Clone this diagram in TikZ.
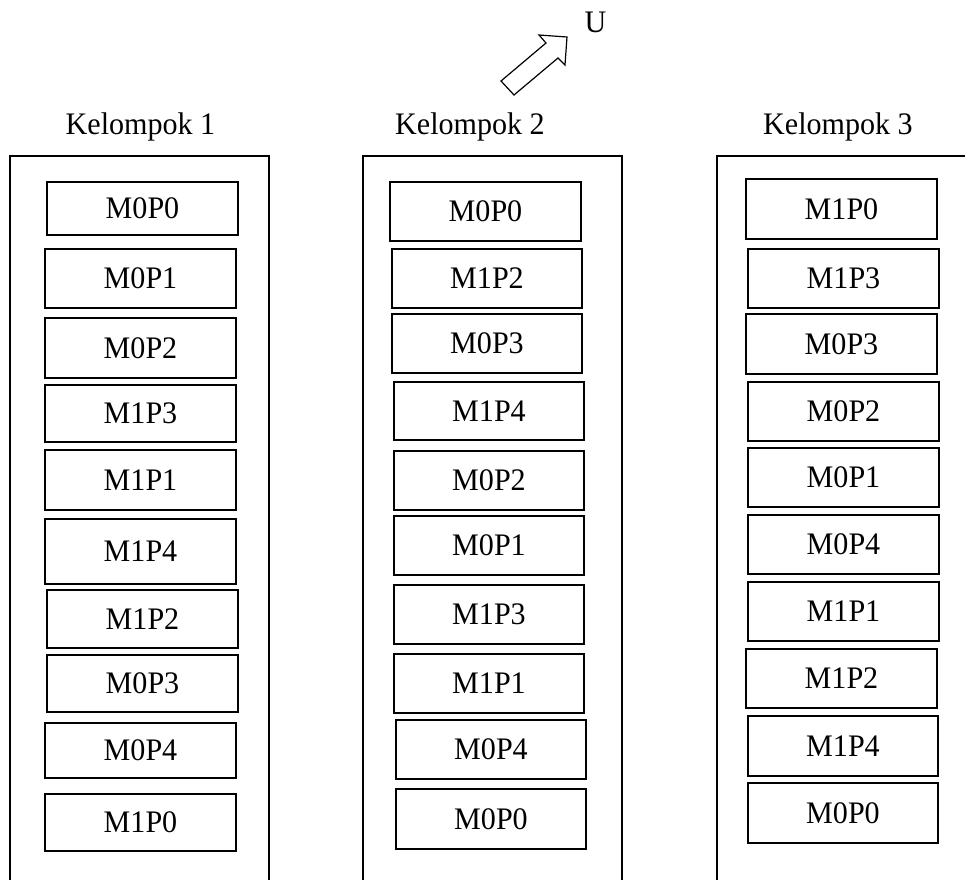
\documentclass[tikz,border=0pt]{standalone}
\usepackage{fontspec}
\setmainfont[FakeStretch=0.96]{Liberation Serif}
\begin{document}
\begin{tikzpicture}[x=0.75pt,y=-0.75pt,
  cell/.style={draw, line width=0.95pt, inner sep=0pt, outer sep=0pt, font=\fontsize{23.5}{28}\selectfont},
  frame/.style={draw, line width=0.8pt},
  title/.style={anchor=base, inner sep=0pt, font=\fontsize{23.5}{28}\selectfont},
  blockarrow/.style={draw, line width=0.9pt, line join=miter, fill=white}]
\useasboundingbox (0,0) rectangle (965,880);
\clip (0,0) rectangle (965,880);
\newcommand\cbx[6]{%
  \node[cell, minimum width={(#4-#2)*0.75pt}, minimum height={(#5-#3)*0.75pt}] (#1) at ({(#2+#4)/2},{(#3+#5)/2}) {#6};}
% frames
\draw[frame] (10,900) -- (10,156) -- (269,156) -- (269,900);
\draw[frame] (363,900) -- (363,156) -- (622,156) -- (622,900);
\draw[frame] (717,900) -- (717,156) -- (975,156);
% titles
\node[title] (t1) at (140.5,135) {Kelompok 1};
\node[title] (t2) at (470,135) {Kelompok 2};
\node[title] (t3) at (838,135) {Kelompok 3};
% block arrow and U
\draw[blockarrow] (501,81) -- (546,43) -- (539,35) -- (567,37) -- (565,65) -- (558,58) -- (514,95) -- cycle;
\node[title] (u) at (595.5,33) {U};
% Kelompok 1
\cbx{a1}{47}{182}{238}{235}{M0P0}
\cbx{a2}{45}{249}{236}{308}{M0P1}
\cbx{a3}{45}{318}{236}{378}{M0P2}
\cbx{a4}{45}{385}{236}{442}{M1P3}
\cbx{a5}{45}{450}{236}{510}{M1P1}
\cbx{a6}{45}{519}{236}{584}{M1P4}
\cbx{a7}{47}{590}{238}{648}{M1P2}
\cbx{a8}{47}{655}{238}{712}{M0P3}
\cbx{a9}{45}{723}{236}{778}{M0P4}
\cbx{a10}{45}{794}{236}{851}{M1P0}
% Kelompok 2
\cbx{b1}{390}{182}{581}{241}{M0P0}
\cbx{b2}{392}{249}{582}{308}{M1P2}
\cbx{b3}{392}{314}{582}{373}{M0P3}
\cbx{b4}{394}{382}{584}{440}{M1P4}
\cbx{b5}{394}{451}{584}{510}{M0P2}
\cbx{b6}{394}{516}{584}{575}{M0P1}
\cbx{b7}{394}{585}{584}{644}{M1P3}
\cbx{b8}{394}{654}{584}{713}{M1P1}
\cbx{b9}{396}{720}{586}{779}{M0P4}
\cbx{b10}{396}{789}{586}{849}{M0P0}
% Kelompok 3
\cbx{c1}{746}{179}{937}{239}{M1P0}
\cbx{c2}{748}{249}{939}{308}{M1P3}
\cbx{c3}{746}{314}{937}{374}{M0P3}
\cbx{c4}{748}{382}{939}{441}{M0P2}
\cbx{c5}{748}{448}{939}{507}{M0P1}
\cbx{c6}{748}{515}{939}{574}{M0P4}
\cbx{c7}{748}{582}{939}{641}{M1P1}
\cbx{c8}{746}{649}{937}{708}{M1P2}
\cbx{c9}{748}{716}{938}{776}{M1P4}
\cbx{c10}{748}{783}{938}{843}{M0P0}
\end{tikzpicture}
\end{document}
